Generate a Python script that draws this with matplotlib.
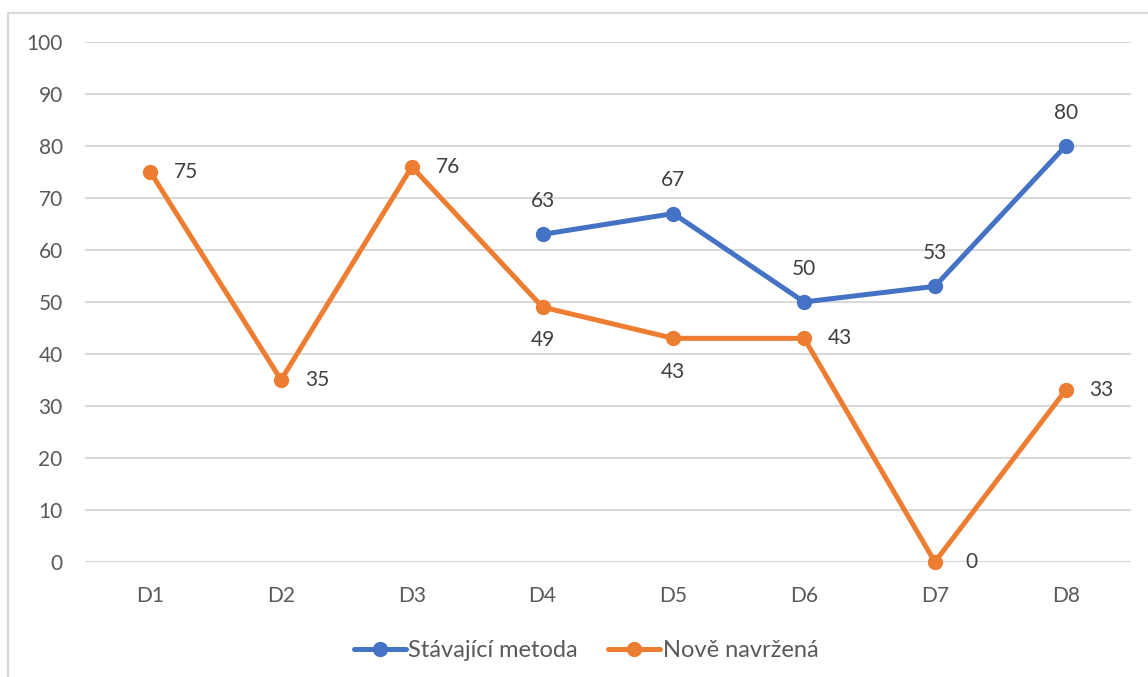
import matplotlib.pyplot as plt
import numpy as np
from matplotlib.lines import Line2D

categorias = ['D1', 'D2', 'D3', 'D4', 'D5', 'D6', 'D7', 'D8']
stavajici = [np.nan, np.nan, np.nan, 63, 67, 50, 53, 80]
nove = [75, 35, 76, 49, 43, 43, 0, 33]
# posicion de la etiqueta de cada punto
pos_stavajici = ['top'] * 8
pos_nove = ['right', 'right', 'right', 'bottom', 'bottom', 'right', 'right', 'right']

azul = '#4472C4'
naranja = '#ED7D31'
gris_texto = '#595959'

plt.rcParams['font.family'] = ['Lato', 'DejaVu Sans']

fig = plt.figure(figsize=(11.48, 6.77), dpi=100)
ax = fig.add_axes([0.074, 0.17, 0.9112, 0.768])

x = np.arange(len(categorias))
ax.plot(x, stavajici, color=azul, lw=3.6, marker='o', ms=10,
        label='Stávající metoda', solid_capstyle='round', zorder=3, clip_on=False)
ax.plot(x, nove, color=naranja, lw=3.6, marker='o', ms=10,
        label='Nově navržená', solid_capstyle='round', zorder=3, clip_on=False)

offsets = {'top': (0, 24), 'bottom': (0, -24), 'right': (26, 0)}

def etiquetas(valores, posiciones):
    for i, v in enumerate(valores):
        if np.isnan(v):
            continue
        ax.annotate(str(int(v)), (x[i], v), xytext=offsets[posiciones[i]],
                    textcoords='offset points', ha='center', va='center',
                    fontsize=15, color='#404040')

etiquetas(np.array(stavajici, dtype=float), pos_stavajici)
etiquetas(np.array(nove, dtype=float), pos_nove)

ax.set_xlim(-0.5, len(categorias) - 0.5)
ax.set_ylim(0, 100)
ax.set_yticks(range(0, 101, 10))
ax.set_xticks(x)
ax.set_xticklabels(categorias)
ax.grid(axis='y', color='#D9D9D9', lw=1.5)
ax.set_axisbelow(True)
for s in ax.spines.values():
    s.set_visible(False)
ax.tick_params(length=0, labelsize=15, colors=gris_texto)
ax.tick_params(axis='x', pad=17)
ax.tick_params(axis='y', pad=16)

leg = ax.legend(loc='upper center', bbox_to_anchor=(0.479, -0.11), ncol=2,
                frameon=False, fontsize=17, handlelength=2.2, handletextpad=0.1,
                columnspacing=1.3)
for t in leg.get_texts():
    t.set_color(gris_texto)

# marco del grafico
fig.add_artist(Line2D([8 / 1148, 8 / 1148], [0, 1 - 13 / 677], color='#D9D9D9', lw=1.5))
fig.add_artist(Line2D([8 / 1148, 1], [1 - 13 / 677, 1 - 13 / 677], color='#D9D9D9', lw=1.5))

fig.savefig('out.png', dpi=100)
